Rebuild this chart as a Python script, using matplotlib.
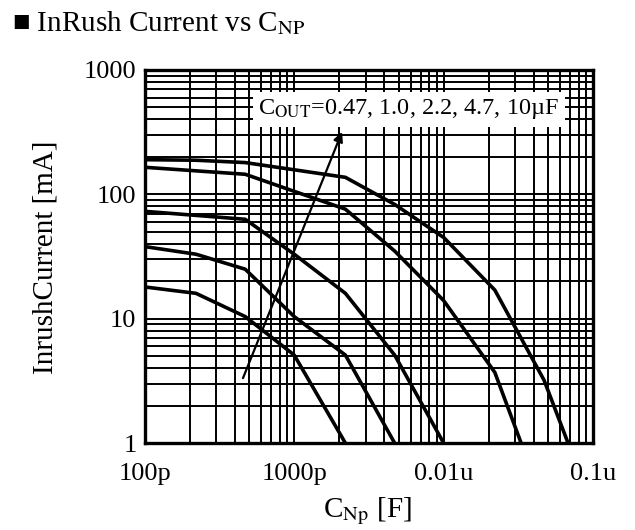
import matplotlib
matplotlib.use('Agg')
import matplotlib.pyplot as plt
from matplotlib.ticker import FixedLocator, NullFormatter

plt.rcParams['font.family'] = ['Liberation Serif', 'DejaVu Serif']
plt.rcParams['mathtext.fontset'] = 'stix'

# --- DATA ---
# C_NP in pF, inrush current in mA, one curve per C_OUT
cnp_10u = [100, 220, 470, 2200, 4700, 10000, 22000, 47000, 68000]
inrush_10u = [190, 188, 180, 137, 83, 45, 17, 3.2, 1.0]

cnp_4u7 = [100, 470, 2200, 4700, 10000, 22000, 33000]
inrush_4u7 = [165, 145, 76, 35, 14, 3.7, 1.0]

cnp_2u2 = [100, 470, 1000, 2200, 4700, 10000]
inrush_2u2 = [73, 63, 33, 16, 5.1, 1.0]

cnp_1u0 = [100, 220, 470, 1000, 2200, 4700]
inrush_1u0 = [38, 33, 25, 10.4, 5.1, 1.0]

cnp_0u47 = [100, 220, 470, 1000, 2200]
inrush_0u47 = [18, 16, 10.4, 5.1, 1.0]

x_ticks = [1e-10, 1e-9, 1e-8, 1e-7]
x_ticklabels = ['100p', '1000p', '0.01u', '0.1u']
y_ticks = [1, 10, 100, 1000]
y_ticklabels = ['1', '10', '100', '1000']

series = [
    (cnp_10u, inrush_10u),
    (cnp_4u7, inrush_4u7),
    (cnp_2u2, inrush_2u2),
    (cnp_1u0, inrush_1u0),
    (cnp_0u47, inrush_0u47),
]

FS = 19      # tick labels
FS_LAB = 21  # title / axis labels

fig = plt.figure(figsize=(6.35, 5.30), dpi=100)
ax = fig.add_axes([0.228, 0.164, 0.706, 0.704])

for cnp, inrush in series:
    ax.plot([c * 1e-12 for c in cnp], inrush, color='black', linewidth=2.6,
            zorder=3)

ax.set_xscale('log')
ax.set_yscale('log')
ax.set_xlim(1e-10, 1e-7)
ax.set_ylim(1, 1000)

ax.xaxis.set_major_locator(FixedLocator(x_ticks))
ax.set_xticklabels(x_ticklabels)
ax.yaxis.set_major_locator(FixedLocator(y_ticks))
ax.set_yticklabels(y_ticklabels)
ax.xaxis.set_minor_formatter(NullFormatter())
ax.yaxis.set_minor_formatter(NullFormatter())
ax.tick_params(which='both', length=0, labelsize=FS)
ax.tick_params(axis='x', pad=14)
ax.tick_params(axis='y', pad=6)

ax.grid(True, which='both', color='black', linewidth=1.4, zorder=1)
ax.set_axisbelow(True)
for sp in ax.spines.values():
    sp.set_linewidth(2.4)
    sp.set_zorder(4)

# annotation box and arrow
ax.text(0.589, 0.895, 'C$_{\\mathrm{OUT}}$=0.47, 1.0, 2.2, 4.7, 10µF',
        transform=ax.transAxes, ha='center', va='center', fontsize=17.5,
        bbox=dict(facecolor='white', edgecolor='none', pad=4), zorder=5)
ax.annotate('', xy=(0.44, 0.834), xycoords='axes fraction',
            xytext=(0.219, 0.174), textcoords='axes fraction',
            arrowprops=dict(arrowstyle='-|>', color='black', lw=1.6,
                            mutation_scale=14, shrinkA=0, shrinkB=0),
            zorder=5)

fig.text(0.019, 0.956, '■ InRush Current vs C$_{\\mathrm{NP}}$',
         fontsize=FS_LAB, ha='left', va='center')
fig.text(0.072, 0.515, 'InrushCurrent [mA]', fontsize=FS_LAB, rotation=90,
         ha='center', va='center')
fig.text(0.579, 0.036, 'C$_{\\mathrm{Np}}$ [F]', fontsize=FS_LAB,
         ha='center', va='center')

fig.savefig('out.png', dpi=100)
